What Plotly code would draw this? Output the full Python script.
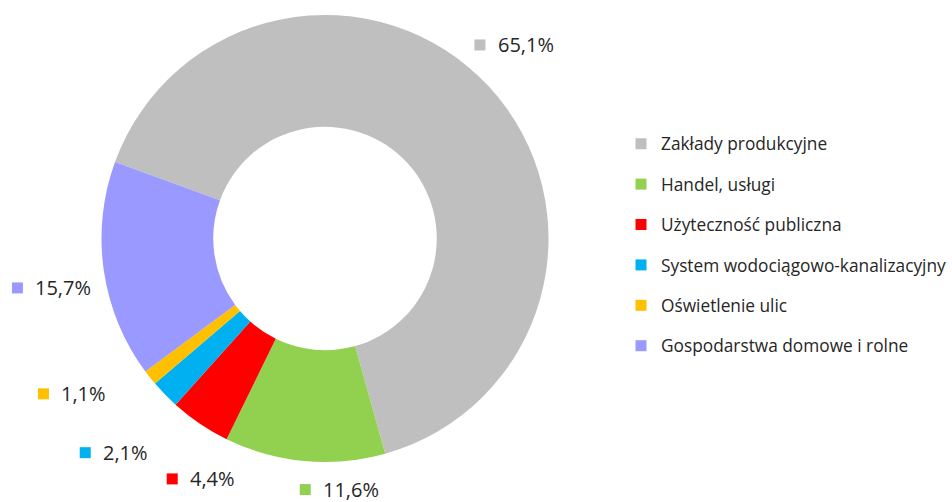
import math
import plotly.graph_objects as go

# ---- data ----
categories = [
    "Zakłady produkcyjne",
    "Handel, usługi",
    "Użyteczność publiczna",
    "System wodociągowo-kanalizacyjny",
    "Oświetlenie ulic",
    "Gospodarstwa domowe i rolne",
]
shares = [65.1, 11.6, 4.4, 2.1, 1.1, 15.7]
colors = ["#BFBFBF", "#92D050", "#FF0000", "#00B0F0", "#FFC000", "#9999FF"]

# ---- layout / style parameters ----
W, H = 952, 502
CX, CY, R = 325.0, 238.5, 223.5     # pie centre and outer radius (px)
ROT = -70                            # first slice starts at 290 deg clockwise from 12 o'clock
HOLE = 0.5
TEXT = "#262626"
FONT = "Open Sans, Noto Sans, sans-serif"
LABEL_SIZE = 20
LEGEND_SIZE = 17.3
# label placement nudges (angle offset from slice mid-angle, distance beyond outer rim)
label_dtheta = [-2.8, -8.6, -6.8, -1.2, 6.9, -2.0]
label_gap = [47.3, 28.0, 46.9, 77.0, 73.0, 54.0]

fig = go.Figure()
fig.add_trace(go.Pie(
    labels=categories, values=shares, sort=False, direction="clockwise",
    rotation=ROT, hole=HOLE, textinfo="none", hoverinfo="label+percent",
    marker=dict(colors=colors, line=dict(width=0)), showlegend=False,
    domain=dict(x=[(CX - R) / W, (CX + R) / W],
                y=[1 - (CY + R) / H, 1 - (CY - R) / H]),
))

# legend entries (one group each so the spacing can match the original)
for i, (name, c) in enumerate(zip(categories, colors)):
    fig.add_trace(go.Scatter(
        x=[None], y=[None], mode="markers", name=name, legendgroup=f"g{i}",
        marker=dict(symbol="square", size=11, color=c, line=dict(width=0)),
        hoverinfo="skip",
    ))

# outside data labels, positioned from the slice angles
total = sum(shares)
shapes, annotations = [], []
cum = 0.0
for i, v in enumerate(shares):
    mid = ROT + (cum + v / 2.0) / total * 360.0
    cum += v
    th = math.radians(mid + label_dtheta[i])
    r = R + label_gap[i]
    lx = CX + r * math.sin(th)
    ly = CY - r * math.cos(th)
    txt = f"{v:.1f}".replace(".", ",") + "%"
    ndig = sum(ch.isdigit() for ch in txt)
    box_w = 25 + 11 * ndig + 22
    sq_left = lx - box_w / 2.0
    shapes.append(dict(
        type="rect", xref="paper", yref="paper", line=dict(width=0),
        fillcolor=colors[i],
        x0=sq_left / W, x1=(sq_left + 11) / W,
        y0=1 - (ly + 5.5) / H, y1=1 - (ly - 5.5) / H,
    ))
    annotations.append(dict(
        text=txt, xref="paper", yref="paper", showarrow=False,
        x=(sq_left + 23.5) / W, y=1 - ly / H, xanchor="left", yanchor="middle",
        borderpad=0, borderwidth=0,
        font=dict(family=FONT, size=LABEL_SIZE, color=TEXT),
    ))

fig.update_layout(
    width=W, height=H, margin=dict(l=0, r=0, t=0, b=0),
    paper_bgcolor="white", plot_bgcolor="white",
    xaxis=dict(visible=False), yaxis=dict(visible=False),
    shapes=shapes, annotations=annotations,
    legend=dict(
        x=621 / W, y=1 - 126 / H, xanchor="left", yanchor="top",
        traceorder="grouped", tracegroupgap=14.9,
        font=dict(family=FONT, size=LEGEND_SIZE, color=TEXT),
        bgcolor="rgba(0,0,0,0)", borderwidth=0,
    ),
    showlegend=True,
)

fig.write_html("out.html", config={"displayModeBar": False},
               post_script="document.body.style.margin='0';")
